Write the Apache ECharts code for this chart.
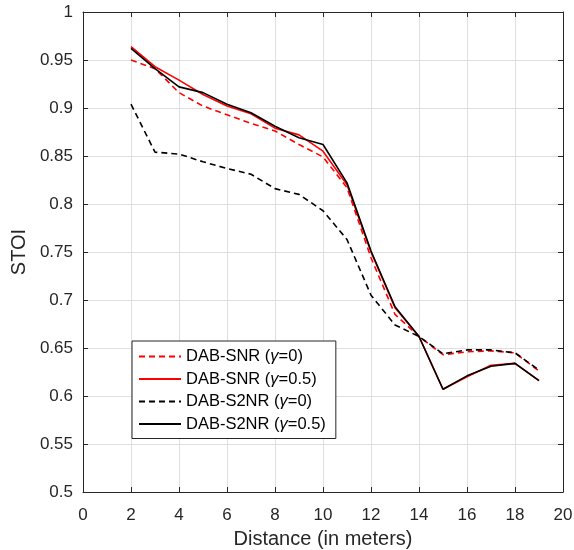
<!DOCTYPE html>
<html>
<head>
<meta charset="utf-8">
<script src="https://cdn.jsdelivr.net/npm/echarts@6/dist/echarts.min.js"></script>
<style>
  html, body { margin: 0; padding: 0; background: #fff; }
  #chart { width: 574px; height: 550px; }
</style>
</head>
<body>
<div id="chart"></div>
<script>
// distance values (m)
const distance = [2, 3, 4, 5, 6, 7, 8, 9, 10, 11, 12, 13, 14, 15, 16, 17, 18, 19];

// STOI per method
const snrG0 = [0.950, 0.941, 0.916, 0.902, 0.893, 0.884, 0.876, 0.862, 0.849, 0.817, 0.744, 0.685, 0.662, 0.643, 0.646, 0.647, 0.645, 0.626];
const snrG05 = [0.964, 0.943, 0.929, 0.914, 0.902, 0.894, 0.879, 0.872, 0.855, 0.820, 0.750, 0.692, 0.662, 0.607, 0.620, 0.632, 0.634, 0.616];
const s2nrG0 = [0.904, 0.854, 0.852, 0.844, 0.837, 0.831, 0.816, 0.810, 0.793, 0.763, 0.705, 0.674, 0.662, 0.644, 0.648, 0.648, 0.645, 0.627];
const s2nrG05 = [0.962, 0.941, 0.922, 0.916, 0.904, 0.895, 0.881, 0.869, 0.862, 0.822, 0.751, 0.693, 0.662, 0.607, 0.621, 0.631, 0.634, 0.616];

const seriesNames = ['DAB-SNR (γ=0)', 'DAB-SNR (γ=0.5)', 'DAB-S2NR (γ=0)', 'DAB-S2NR (γ=0.5)'];

const font = 'Liberation Sans, Arial, sans-serif';
const axisColor = '#262626';
const gridColor = '#dfdfdf';

function pairs(ys) {
  return distance.map((x, i) => [x, ys[i]]);
}

function lineSeries(name, ys, color, dashed) {
  return {
    name: name,
    type: 'line',
    data: pairs(ys),
    symbol: 'none',
    animation: false,
    lineStyle: { color: color, width: 1.6, type: dashed ? [6, 4] : 'solid' },
    itemStyle: { color: color }
  };
}

// 主轴 + 顶部/右侧镜像轴 (box on)
function xAxisCfg(pos, main) {
  return {
    type: 'value', position: pos, min: 0, max: 20, interval: 2,
    axisLine: { show: true, onZero: false, lineStyle: { color: axisColor, width: 1 } },
    axisTick: { show: true, inside: true, length: 5, lineStyle: { color: axisColor } },
    axisLabel: { show: main, color: axisColor, fontFamily: font, fontSize: 17, margin: 15 },
    splitLine: { show: main, lineStyle: { color: gridColor, width: 1 } },
    name: main ? 'Distance (in meters)' : '',
    nameLocation: 'middle', nameGap: 37,
    nameTextStyle: { color: axisColor, fontFamily: font, fontSize: 20 }
  };
}

function yAxisCfg(pos, main) {
  return {
    type: 'value', position: pos, min: 0.5, max: 1, interval: 0.05,
    axisLine: { show: true, onZero: false, lineStyle: { color: axisColor, width: 1 } },
    axisTick: { show: true, inside: true, length: 5, lineStyle: { color: axisColor } },
    axisLabel: {
      show: main, color: axisColor, fontFamily: font, fontSize: 17, margin: 10,
      formatter: v => String(+v.toFixed(2))
    },
    splitLine: { show: main, lineStyle: { color: gridColor, width: 1 } },
    name: main ? 'STOI' : '',
    nameLocation: 'middle', nameGap: 53,
    nameTextStyle: { color: axisColor, fontFamily: font, fontSize: 20 }
  };
}

const chart = echarts.init(document.getElementById('chart'));
chart.setOption({
  backgroundColor: '#fff',
  animation: false,
  grid: { left: 83, right: 11, top: 12, bottom: 58, containLabel: false, outerBoundsMode: 'none' },
  xAxis: [xAxisCfg('bottom', true), xAxisCfg('top', false)],
  yAxis: [yAxisCfg('left', true), yAxisCfg('right', false)],
  legend: {
    data: seriesNames,
    orient: 'vertical',
    left: 132, top: 341,
    padding: [7, 10, 6, 6],
    itemWidth: 42, itemHeight: 16, itemGap: 5.5,
    backgroundColor: '#fff',
    borderColor: axisColor, borderWidth: 1,
    selectedMode: false,
    itemStyle: { color: 'transparent', borderWidth: 0 },
    textStyle: {
      color: '#000', fontFamily: font, fontSize: 16.5, lineHeight: 16,
      rich: { g: { fontStyle: 'italic', fontFamily: font, fontSize: 16.5, color: '#000' } }
    },
    formatter: name => name.replace('γ', '{g|γ}')
  },
  series: [
    lineSeries(seriesNames[0], snrG0, '#ff0000', true),
    lineSeries(seriesNames[1], snrG05, '#ff0000', false),
    lineSeries(seriesNames[2], s2nrG0, '#000000', true),
    lineSeries(seriesNames[3], s2nrG05, '#000000', false)
  ]
});
</script>
</body>
</html>
